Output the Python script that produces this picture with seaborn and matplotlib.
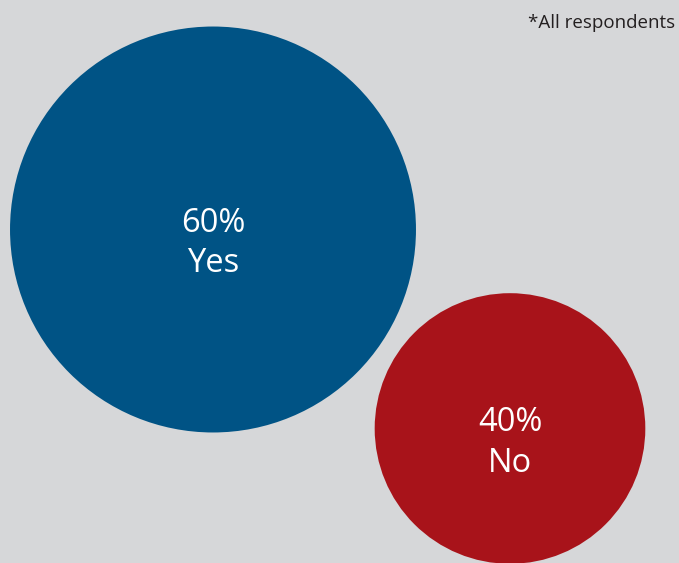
import matplotlib
matplotlib.use("Agg")
import matplotlib.pyplot as plt
import seaborn as sns
import pandas as pd
import numpy as np

# Survey answers and their shares
answers = ["Yes", "No"]
shares = [60, 40]
colors = ["#005385", "#a8131a"]

# Bubble centres in pixel space of the canvas
centre_x = [213, 510]
centre_y = [229.5, 428.5]

W, H, DPI = 679, 563, 100
bg = "#d6d7d9"

sns.set_theme(style="white")
plt.rcParams["font.family"] = ["Open Sans", "DejaVu Sans"]

fig = plt.figure(figsize=(W / DPI, H / DPI), dpi=DPI, facecolor=bg)
ax = fig.add_axes([0, 0, 1, 1])
ax.set_facecolor(bg)
ax.set_xlim(0, W)
ax.set_ylim(H, 0)
ax.set_aspect("equal")
ax.axis("off")

# radius proportional to the share; convert pixel radius to marker area (pt^2)
px_per_share = 3.383
radius_px = np.array(shares) * px_per_share
diam_pt = 2 * radius_px * 72 / DPI
df = pd.DataFrame({"x": centre_x, "y": centre_y, "answer": answers})
sns.scatterplot(data=df, x="x", y="y", hue="answer", palette=colors,
                s=list(diam_pt ** 2), linewidth=0, legend=False, ax=ax,
                clip_on=False)
ax.set_xlabel("")
ax.set_ylabel("")

for cx, cy, a, v in zip(centre_x, centre_y, answers, shares):
    ax.text(cx, cy + 2.5, f"{v}%", color="white", fontsize=23.5,
            ha="center", va="baseline")
    ax.text(cx, cy + 43, a, color="white", fontsize=23.5,
            ha="center", va="baseline")

ax.text(675, 27.5, "*All respondents", color="#231f20", fontsize=13.5,
        ha="right", va="baseline")

fig.savefig("out.png", dpi=DPI, facecolor=bg)
